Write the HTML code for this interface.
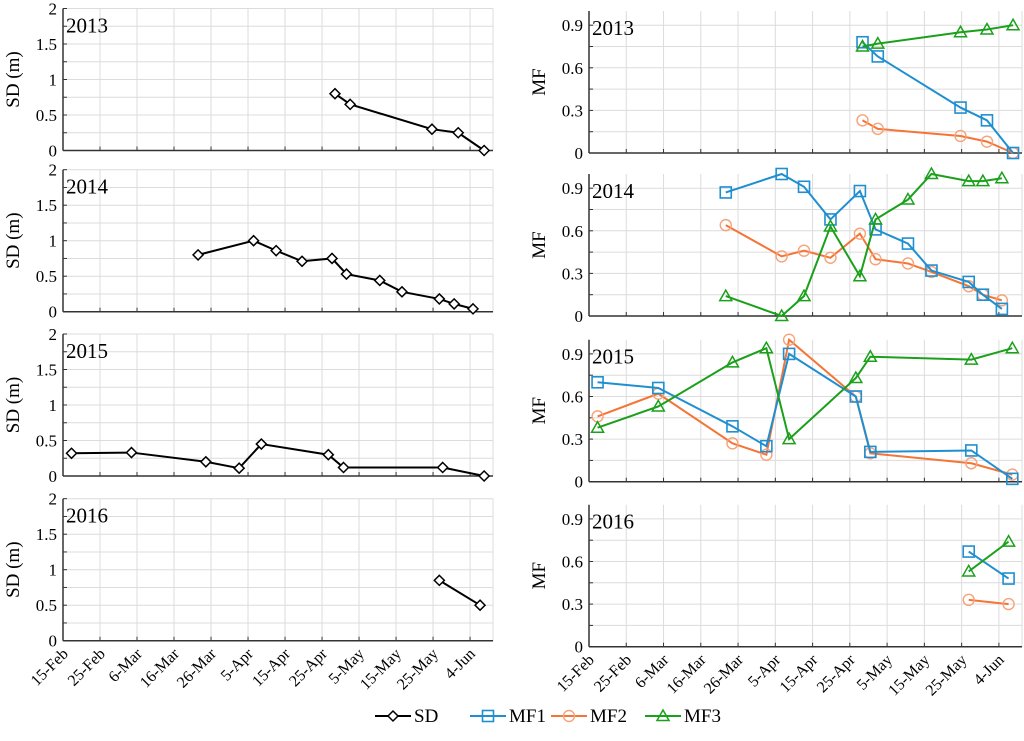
<!DOCTYPE html>
<html><head><meta charset="utf-8"><style>
body{margin:0;background:#fff}
svg{display:block}
svg text{font-family:"Liberation Serif","Times New Roman",serif}
</style></head><body>
<svg id="c" width="1024" height="741" font-family="Liberation Serif, serif"></svg>
<script>
const years=["2013","2014","2015","2016"];
const xTickLabels=["15-Feb","25-Feb","6-Mar","16-Mar","26-Mar","5-Apr","15-Apr","25-Apr","5-May","15-May","25-May","4-Jun"];
// day offsets from 15-Feb
const sdDays=[[73.5,77.6,99.7,106.8,113.8],[36.5,51.5,57.6,64.6,72.7,76.6,85.6,91.6,101.7,105.7,110.8],[2.3,18.5,38.6,47.6,53.6,71.7,75.8,102.6,113.8],[101.7,112.7]];
const sdVals=[[0.8,0.65,0.3,0.25,0],[0.8,1.0,0.86,0.71,0.75,0.53,0.44,0.28,0.18,0.11,0.04],[0.32,0.33,0.2,0.11,0.45,0.3,0.12,0.12,0],[0.85,0.5]];
const mfDays=[[73.4,77.5,99.7,106.8,113.8],[36.7,51.7,57.7,64.8,72.7,76.9,85.6,91.9,101.9,105.7,110.8],[2.3,18.6,38.5,47.6,53.7,71.6,75.5,102.6,113.6],[101.9,112.6]];
const mf1=[[0.78,0.68,0.32,0.23,0],[0.87,1.0,0.91,0.68,0.88,0.61,0.51,0.32,0.24,0.15,0.05],[0.70,0.66,0.39,0.25,0.90,0.60,0.21,0.22,0.02],[0.67,0.48]];
const mf2=[[0.23,0.17,0.12,0.08,0],[0.64,0.42,0.46,0.41,0.58,0.40,0.37,0.31,0.21,0.15,0.11],[0.46,0.62,0.27,0.19,1.0,0.60,0.20,0.13,0.05],[0.33,0.30]];
const mf3=[[0.75,0.77,0.85,0.87,0.90],[0.14,0.0,0.14,0.63,0.28,0.68,0.82,1.0,0.95,0.95,0.97],[0.38,0.53,0.84,0.94,0.30,0.73,0.88,0.86,0.94],[0.53,0.74]];
const sdTicks=[0,0.5,1,1.5,2];
const mfTicks=[0,0.3,0.6,0.9];

const svg=document.getElementById('c');
const NS='http://www.w3.org/2000/svg';
function el(t,a,p){const e=document.createElementNS(NS,t);for(const k in a)e.setAttribute(k,a[k]);if(t==='text')e.setAttribute('font-family','Liberation Serif, serif');(p||svg).appendChild(e);return e;}
const C={sd:'#000',mf1:'#1f8fd0',mf2:'#f47535',mf3:'#1aa01a'};
const Lzero=[150.5,311.7,476,640.7], Rzero=[153,316,481.7,646.7];
const H=142;
function marker(g,type,x,y,col,name){
  let m;
  if(type==='d') m=el('polygon',{points:`${x},${y-5} ${x+5},${y} ${x},${y+5} ${x-5},${y}`,fill:'#fff',stroke:col,'stroke-width':1.5},g);
  else if(type==='s') m=el('rect',{x:x-5.5,y:y-5.5,width:11,height:11,fill:'none',stroke:col,'stroke-width':1.6},g);
  else if(type==='c') m=el('circle',{cx:x,cy:y,r:5.5,fill:'none',stroke:'#f7a27a','stroke-width':1.4},g);
  else m=el('polygon',{points:`${x},${y-6} ${x+6},${y+4.5} ${x-6},${y+4.5}`,fill:'none',stroke:col,'stroke-width':1.5},g);
  
  
}
function panel(x0,x1,zero,ymax,ticks,minor,days,seriesList,yTitle,yr,showX,pname){
  const g=el('g',{});
  
  
  const sx=d=>x0+d*(x1-x0)/116.2;
  const sy=v=>zero-v/ymax*H;
  for(let v=0;v<=ymax+1e-9;v+=minor){ if(v>0) el('line',{x1:x0,x2:x1,y1:sy(v),y2:sy(v),stroke:'#dcdcdc','stroke-width':1},g);}
  for(let k=1;k<=12;k++){const x=k<12?sx(k*10):x1; el('line',{x1:x,x2:x,y1:zero,y2:sy(ymax),stroke:'#dcdcdc','stroke-width':1},g);}
  el('line',{x1:x0,x2:x0,y1:zero,y2:sy(ymax),stroke:'#333','stroke-width':1.5},g);
  el('line',{x1:x0,x2:x1,y1:zero,y2:zero,stroke:'#333','stroke-width':1.5},g);
  for(let v=minor;v<=ymax+1e-9;v+=minor) el('line',{x1:x0,x2:x0+4,y1:sy(v),y2:sy(v),stroke:'#333'},g);
  for(let k=1;k<12;k++) el('line',{x1:sx(k*10),x2:sx(k*10),y1:zero,y2:zero-4,stroke:'#333'},g);
  ticks.forEach(v=>{const t=el('text',{x:x0-6,y:sy(v)+6,'text-anchor':'end','font-size':17},g);t.textContent=String(v);
    });
  const yt=el('text',{transform:`translate(${x0-44},${zero-H/2}) rotate(-90)`,'text-anchor':'middle','font-size':19},g);
  yt.textContent=yTitle;
  const yl=el('text',{x:x0+3,y:sy(ymax)+24,'font-size':21},g);
  yl.textContent=yr;
  seriesList.forEach(s=>{
    const pts=s.vals.map((v,i)=>`${sx(days[i])},${sy(v)}`).join(' ');
    const pl=el('polyline',{points:pts,fill:'none',stroke:s.col,'stroke-width':2},g);
    
    s.vals.forEach((v,i)=>marker(g,s.m,sx(days[i]),sy(v),s.col,s.name+'-point'));
  });
  if(showX){
    xTickLabels.forEach((l,k)=>{const x=sx(k*10)+6,y=zero+14;
      const t=el('text',{transform:`translate(${x},${y}) rotate(-45)`,'text-anchor':'end','font-size':16},g);
      t.textContent=l;});
  }
}
for(let i=0;i<4;i++){
  panel(63,493,Lzero[i],2,sdTicks,0.25,sdDays[i],[{vals:sdVals[i],col:C.sd,m:'d',name:'sd'}],'SD (m)',years[i],i===3,'sd-panel-'+years[i]);
  panel(589,1022,Rzero[i],1,mfTicks,0.15,mfDays[i],[
    {vals:mf2[i],col:C.mf2,m:'c',name:'mf2'},
    {vals:mf1[i],col:C.mf1,m:'s',name:'mf1'},
    {vals:mf3[i],col:C.mf3,m:'t',name:'mf3'}],'MF',years[i],i===3,'mf-panel-'+years[i]);
}
const lg=el('g',{});


[['SD',375,C.sd,'d'],['MF1',470,C.mf1,'s'],['MF2',551,C.mf2,'c'],['MF3',645,C.mf3,'t']].forEach(([n,x,c,m])=>{
  el('line',{x1:x,x2:x+36,y1:716,y2:716,stroke:c,'stroke-width':2},lg);
  marker(lg,m,x+18,716,c,'legend-marker-'+n.toLowerCase());
  const t=el('text',{x:x+39,y:722,'font-size':19},lg);t.textContent=n;
  
});
</script>
</body></html>
